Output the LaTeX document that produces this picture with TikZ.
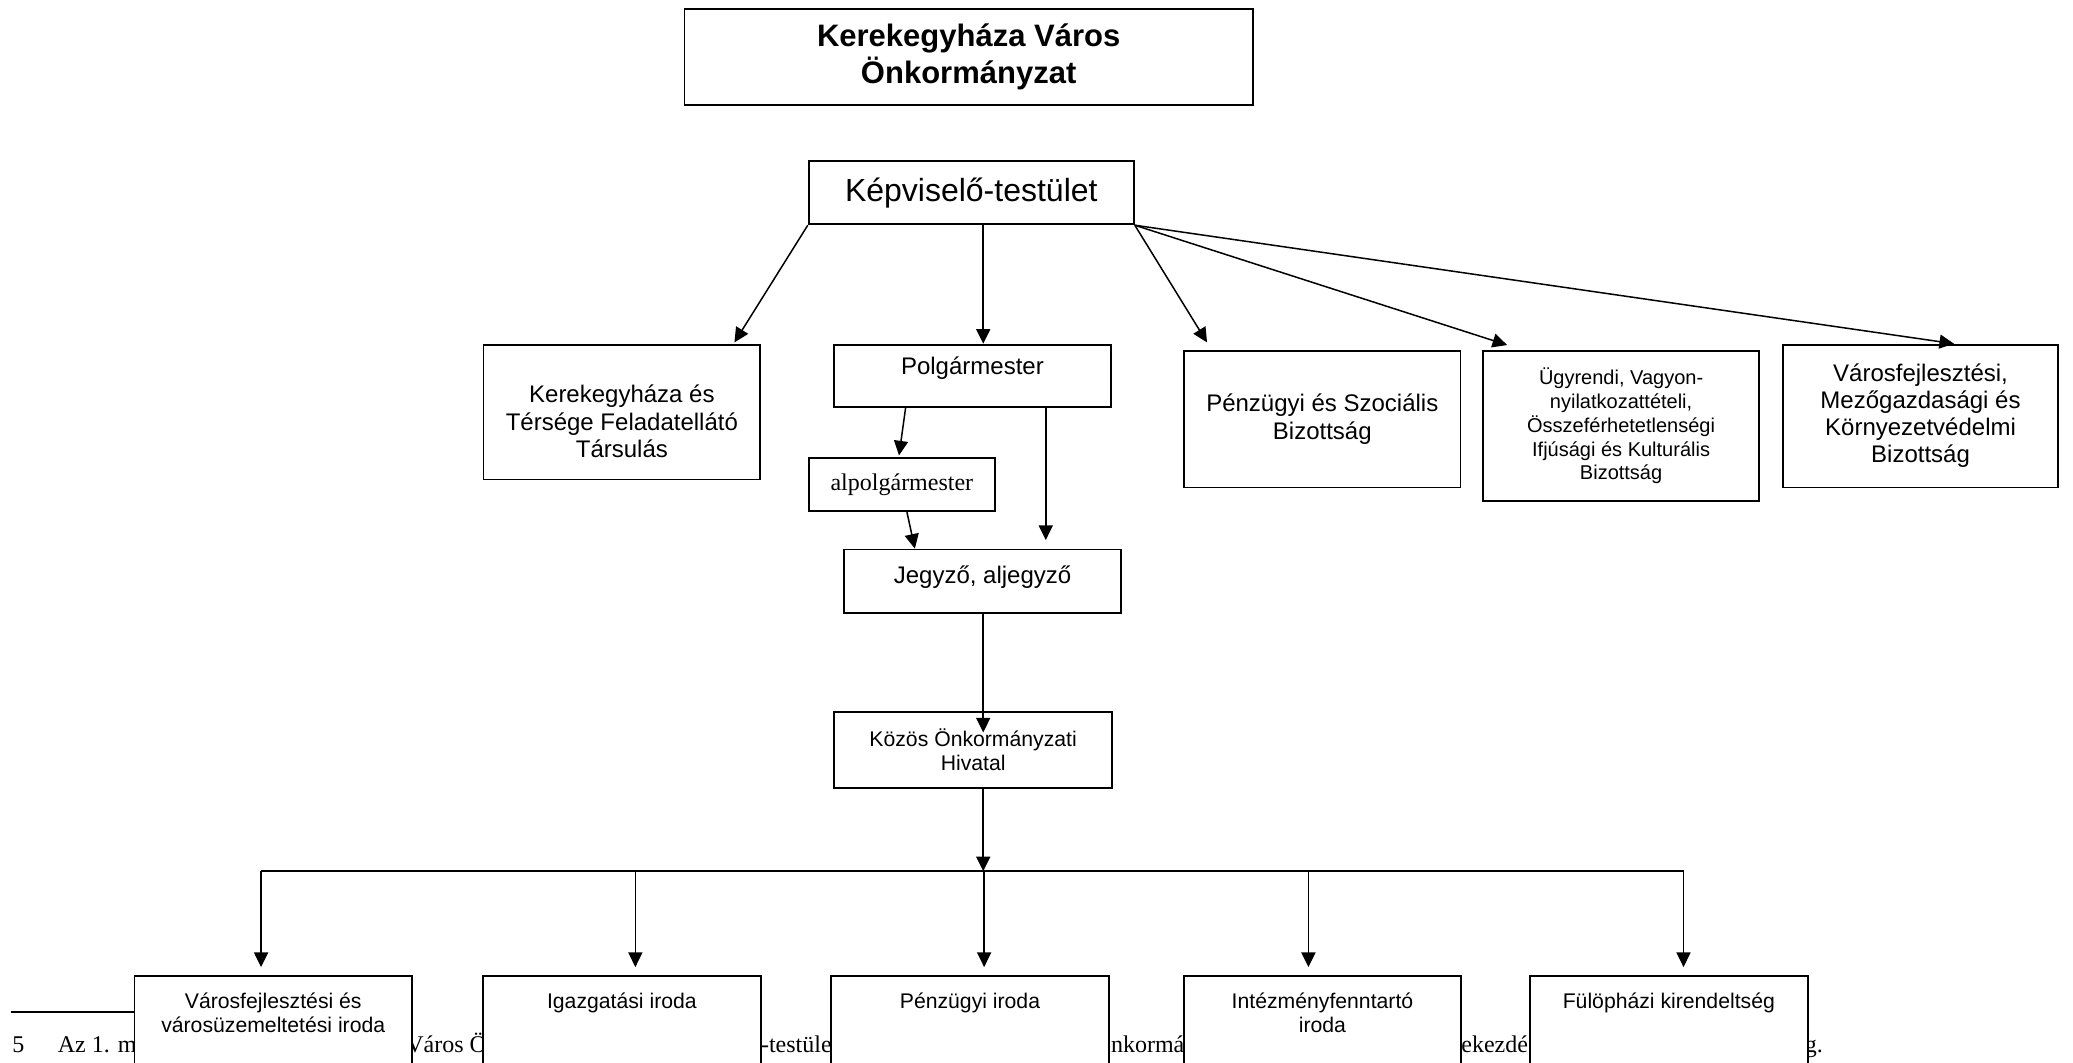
\documentclass[tikz,border=0pt]{standalone}
\usepackage{fontspec}
\setmainfont{Liberation Sans}
\newfontfamily\tnr{Liberation Serif}
\usetikzlibrary{positioning}
\usetikzlibrary{calc}
\usetikzlibrary{arrows.meta}

\tikzset{
  box/.style={draw=black, line width=0.9pt, fill=white, inner sep=0pt, align=center, anchor=north west},
  sz/.style 2 args={minimum width=#1*0.661pt, minimum height=#2*0.661pt},
  arr/.style={line width=0.75pt, -{Triangle[length=7.3pt,width=7pt]}},
  f12/.style={font=\fontsize{12}{13.8}\selectfont},
  fsm/.style={font=\fontsize{10.6}{12}\selectfont},
  fn/.style={font=\tnr\fontsize{12}{14}\selectfont, inner sep=0pt, anchor=base west}
}
\newcommand\lift[2]{\raisebox{#1}[\height][\depth]{#2}}
\newcommand\toptext[1]{\raisebox{6.1pt}[0pt][0pt]{\begin{tabular}[t]{@{}c@{}}#1\end{tabular}}}

\begin{document}
\begin{tikzpicture}[x=0.661pt, y=-0.661pt]
\useasboundingbox (0,0) rectangle (1568,804);

\coordinate (spine) at (743.7,0);
\coordinate (bus) at (743.7,659);

% top of the chart
\node[box, sz={430}{73}, font=\fontsize{15.5}{18.5}\selectfont\bfseries] (onk) at (517,6) {Kerekegyháza Város\\Önkormányzat};
\node[box, sz={246}{48}, font=\fontsize{16}{18}\selectfont] (kt) at (611,121) {Képviselő-testület};

\node[box, sz={209.4}{102}, f12] (tars) at (365,260)
  {\lift{-6.3pt}{\begin{tabular}{@{}c@{}}Kerekegyháza és\\Térsége Feladatellátó\\Társulás\end{tabular}}};
\node[box, sz={209.7}{47}, f12] (polg) at (630,260) {\lift{3.6pt}{Polgármester}};
\node[box, sz={141}{40}, font=\tnr\fontsize{12}{14}\selectfont] (alp) at (611,346) {alpolgármester};
\node[box, sz={209}{48}, f12] (jeg) at (638,415) {\lift{2pt}{Jegyző, aljegyző}};

\node[box, sz={209}{103}, f12] (pbiz) at (895,265) {Pénzügyi és Szociális\\Bizottság};
\node[box, sz={209}{113}, font=\fontsize{10}{11.9}\selectfont] (ubiz) at (1121,265)
  {Ügyrendi, Vagyon-\\nyilatkozattételi,\\Összeférhetetlenségi\\Ifjúsági és Kulturális\\Bizottság};
\node[box, sz={208}{108}, font=\fontsize{12}{13.5}\selectfont] (vbiz) at (1348,260)
  {Városfejlesztési,\\Mezőgazdasági és\\Környezetvédelmi\\Bizottság};

\node[box, sz={210}{57.5}, fsm] (koz) at (630.4,538) {Közös Önkormányzati\\Hivatal};

% footnote of the page, partly hidden
\draw[line width=0.8pt] (8,765.3) -- (120,765.3);
\node[fn] (fn0) at (9,796) {5};
\node[fn] (fn1) at (43.5,796) {Az 1. melléklet};
\node[fn] (fn2) at (307,796) {Város Önkormányzata};
\node[fn] (fn3) at (501.7,796) {Képviselő-testületének};
\node[fn] (fn4) at (831,796) {önkormányzati};
\node[fn] (fn5) at (1096,796) {bekezdése};
\node[fn, anchor=base east] (fn6) at (1379,796) {szöveg.};

% irodak
\foreach \n/\x/\t in {vfi/101/{Városfejlesztési és\\városüzemeltetési iroda},
                      iga/364.7/{Igazgatási iroda},
                      pei/628/{Pénzügyi iroda},
                      inf/894.6/{Intézményfenntartó\\iroda},
                      ful/1156.6/{Fülöpházi kirendeltség}}
  \node[box, sz={210}{67}, fsm] (\n) at (\x,737.5) {\toptext{\t}};

% connectors
\draw[arr] (kt.south west) -- ($(tars.north west)+(190.5,-1)$);
\draw[arr] (kt.south -| spine) -- (polg.north -| spine);
\draw[arr] (kt.south east) -- ($(pbiz.north west)+(18,-6)$);
\draw[arr] (kt.south east) -- ($(ubiz.north west)+(19,-4)$);
\draw[arr] (kt.south east) -- ($(vbiz.north west)+(130,0)$);

\draw[arr] ($(polg.south west)+(55,0)$) -- ($(alp.north west)+(69,-1.5)$);
\draw[arr] ($(alp.south west)+(75,0)$) -- ($(jeg.north west)+(54,0)$);
\draw[arr] ($(polg.south west)+(161,0)$) -- ($(jeg.north west)+(153,-6.5)$);

\draw[arr] (jeg.south -| spine) -- ($(koz.north -| spine)+(0,16)$);
\draw[arr] (koz.south -| spine) -- (bus);

\foreach \n/\dx in {vfi/-9.2, iga/10.2, pei/10.7, inf/-10.6, ful/11.1} {
  \coordinate (\n-in) at ($(\n.north)+(\dx,-6)$);
  \draw[arr] (\n-in |- bus) -- (\n-in);
}
\draw[line width=0.75pt] (vfi-in |- bus) -- (ful-in |- bus);
\end{tikzpicture}
\end{document}
